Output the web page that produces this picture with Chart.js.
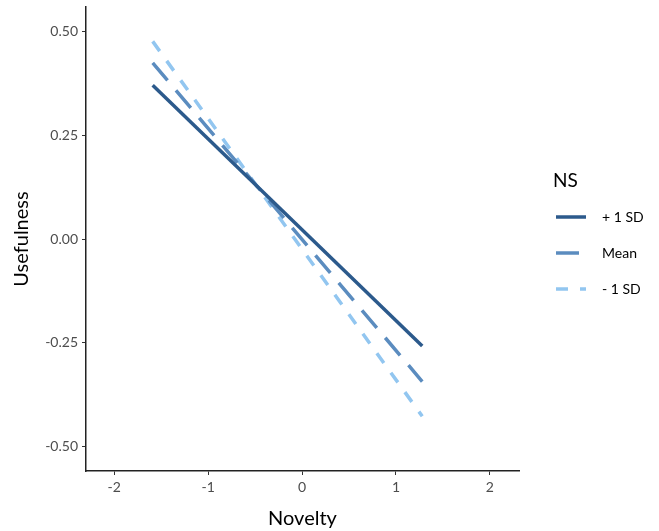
<!DOCTYPE html>
<html>
<head>
<meta charset="utf-8">
<script src="https://cdn.jsdelivr.net/npm/chart.js@4"></script>
<style>
  html, body { margin: 0; padding: 0; background: #fff; }
  #wrap { width: 659px; height: 531px; }
</style>
</head>
<body>
<div id="wrap"><canvas id="ns-chart"></canvas></div>
<script>
// Simple slopes: Usefulness on Novelty at three levels of NS
const novelty = [-1.59, 1.28];
const plusSD = [0.371, -0.258];
const meanNS = [0.425, -0.344];
const minusSD = [0.477, -0.428];
const seriesLabels = ['+ 1 SD', 'Mean', '- 1 SD'];
const xTicks = [-2, -1, 0, 1, 2];
const yTicks = [-0.5, -0.25, 0, 0.25, 0.5];

const fontFamily = 'Lato, "Open Sans", sans-serif';

function toPoints(ys) {
    return novelty.map(function(x, i) { return { x: x, y: ys[i] }; });
}

// Legend drawn by hand, ggplot style
const nsLegend = {
    id: 'nsLegend',
    afterDraw: function(chart) {
        const ctx = chart.ctx;
        ctx.save();
        ctx.fillStyle = '#000';
        ctx.font = '19px ' + fontFamily;
        ctx.textBaseline = 'middle';
        ctx.fillText('NS', 553, 181);
        const rowY = [217, 253, 289];
        chart.data.datasets.forEach(function(ds, i) {
            ctx.beginPath();
            ctx.strokeStyle = ds.borderColor;
            ctx.lineWidth = ds.borderWidth;
            ctx.setLineDash(ds.borderDash || []);
            ctx.moveTo(556, rowY[i]);
            ctx.lineTo(586, rowY[i]);
            ctx.stroke();
            ctx.setLineDash([]);
            ctx.font = '14px ' + fontFamily;
            ctx.fillStyle = '#000';
            ctx.fillText(ds.label, 602, rowY[i]);
        });
        ctx.restore();
    }
};

new Chart(document.getElementById('ns-chart'), {
    type: 'line',
    data: {
        datasets: [
            {
                label: seriesLabels[0],
                data: toPoints(plusSD),
                borderColor: '#2c5a8c',
                borderWidth: 3.5,
                pointRadius: 0
            },
            {
                label: seriesLabels[1],
                data: toPoints(meanNS),
                borderColor: '#5b8cbf',
                borderWidth: 3.5,
                borderDash: [23, 13],
                pointRadius: 0
            },
            {
                label: seriesLabels[2],
                data: toPoints(minusSD),
                borderColor: '#92c6f0',
                borderWidth: 3.5,
                borderDash: [12, 12],
                pointRadius: 0
            }
        ]
    },
    options: {
        responsive: true,
        maintainAspectRatio: false,
        animation: false,
        layout: { padding: { top: 7, right: 140, left: 0, bottom: 0 } },
        scales: {
            x: {
                type: 'linear',
                min: -2.3,
                max: 2.31,
                afterBuildTicks: function(axis) {
                    axis.ticks = xTicks.map(function(v) { return { value: v }; });
                },
                afterFit: function(axis) {
                    axis.height = 60;
                    axis.paddingLeft = 0;
                    axis.paddingRight = 0;
                },
                grid: { drawOnChartArea: false, drawTicks: true, tickLength: 4, color: '#333' },
                border: { display: true, color: '#222', width: 1.5 },
                ticks: {
                    color: '#4d4d4d',
                    font: { size: 14, family: fontFamily },
                    padding: 4,
                    maxRotation: 0
                },
                title: {
                    display: true,
                    text: 'Novelty',
                    color: '#000',
                    font: { size: 20, family: fontFamily },
                    padding: { top: 2, bottom: 0 }
                }
            },
            y: {
                type: 'linear',
                min: -0.56,
                max: 0.56,
                afterBuildTicks: function(axis) {
                    axis.ticks = yTicks.map(function(v) { return { value: v }; });
                },
                afterFit: function(axis) {
                    axis.width = 86;
                    axis.paddingTop = 0;
                    axis.paddingBottom = 0;
                },
                grid: { drawOnChartArea: false, drawTicks: true, tickLength: 4, color: '#333' },
                border: { display: true, color: '#222', width: 1.5 },
                ticks: {
                    color: '#4d4d4d',
                    font: { size: 14, family: fontFamily },
                    padding: 4,
                    callback: function(value) { return value.toFixed(2); }
                },
                title: {
                    display: true,
                    text: 'Usefulness',
                    color: '#000',
                    font: { size: 20, family: fontFamily },
                    padding: { top: 10, bottom: 6 }
                }
            }
        },
        plugins: {
            legend: { display: false },
            tooltip: { enabled: false }
        }
    },
    plugins: [nsLegend]
});
</script>
</body>
</html>
